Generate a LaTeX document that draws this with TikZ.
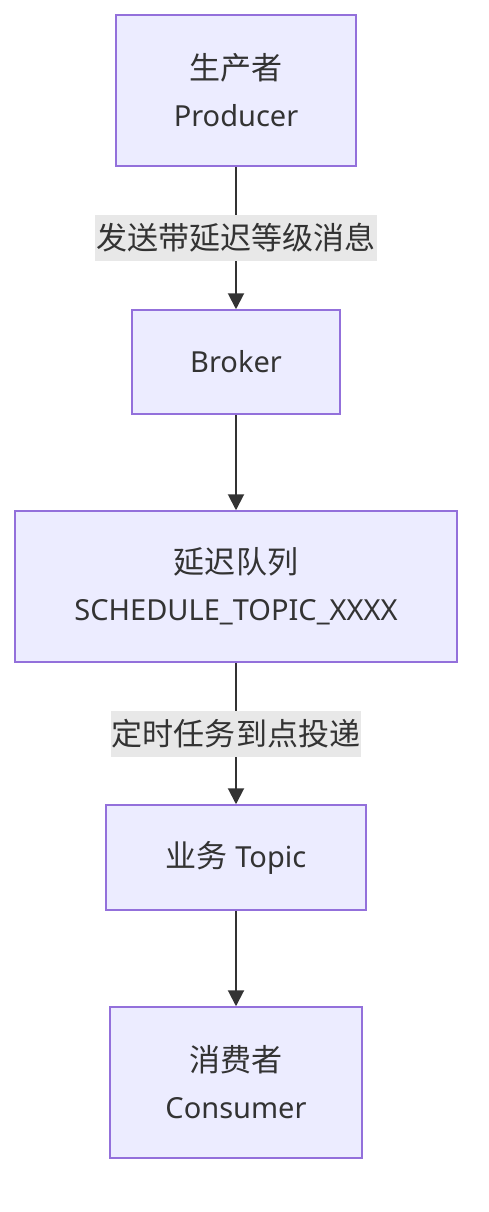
\documentclass[tikz,border=0pt]{standalone}
\usepackage{fontspec}
\setmainfont{Noto Sans}
\newfontfamily\cjk{Noto Sans CJK SC}[Scale=1.07]
\usetikzlibrary{arrows.meta}
\definecolor{boxfill}{HTML}{ECECFF}
\definecolor{boxline}{HTML}{9370DB}
\definecolor{txt}{HTML}{333333}
\definecolor{lblbg}{HTML}{E8E8E8}
\tikzset{
  box/.style={draw=boxline, fill=boxfill, line width=1.5pt, text=txt, align=center,
    font=\fontsize{29}{47}\selectfont, inner sep=0pt},
  lbl/.style={fill=lblbg, text=txt, font=\fontsize{29}{34}\selectfont, inner xsep=1pt,
    minimum height=46pt, inner ysep=0pt},
  arr/.style={draw=txt, line width=2pt, -{Triangle[width=16pt,length=16pt]}}
}
\begin{document}
\begin{tikzpicture}[x=1pt,y=-1pt]
\useasboundingbox (0,0) rectangle (488,1212);
\node[box, minimum width=240pt, minimum height=151pt] (prod) at (236,90.5) {{\cjk 生产者}\\Producer};
\node[box, minimum width=208pt, minimum height=104pt] (brok) at (236,362) {Broker};
\node[box, minimum width=442pt, minimum height=151pt] (sched) at (236,586.5) {{\cjk 延迟队列}\\SCHEDULE\_TOPIC\_XXXX};
\node[box, minimum width=260pt, minimum height=105pt] (topic) at (236,857.5) {{\cjk 业务} Topic};
\node[box, minimum width=252pt, minimum height=151pt] (cons) at (236,1082.5) {{\cjk 消费者}\\Consumer};
\draw[arr] (prod) -- node[lbl] (l1) {\cjk 发送带延迟等级消息} (brok);
\draw[arr] (brok) -- (sched);
\draw[arr] (sched) -- node[lbl] (l2) {\cjk 定时任务到点投递} (topic);
\draw[arr] (topic) -- (cons);
\end{tikzpicture}
\end{document}
